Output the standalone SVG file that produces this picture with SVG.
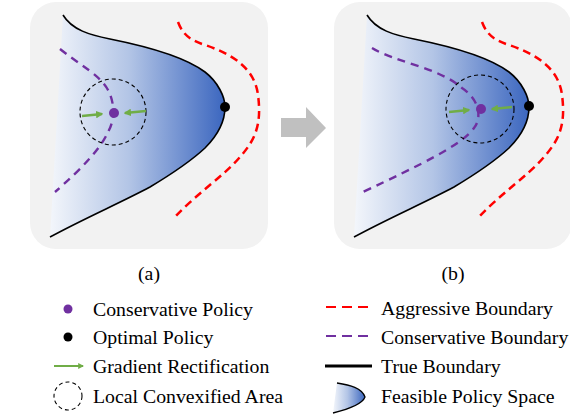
<svg xmlns="http://www.w3.org/2000/svg" width="570" height="414" viewBox="0 0 570 414">
<defs>
<linearGradient id="feas" x1="0" y1="0" x2="1" y2="0">
<stop offset="0" stop-color="#f3f6fb"/>
<stop offset="0.45" stop-color="#b3c5e6"/>
<stop offset="1" stop-color="#3b66bf"/>
</linearGradient>
<marker id="ah" viewBox="0 0 10 10" refX="8" refY="5" markerWidth="3" markerHeight="3" orient="auto" markerUnits="strokeWidth">
<path d="M0,0 L10,5 L0,10 z" fill="#70ad47"/>
</marker>
<g id="panelShape">
<path class="fill" d="M63,15 C72,30 90,35 110,39 C150,47 185,57 205,72 C218,82 225,97 225,107 C225,120 218,135 205,148 C190,162 170,175 150,187 C120,203 85,218 50,237 L63,15 Z"/>
<path class="true" d="M63,15 C72,30 90,35 110,39 C150,47 185,57 205,72 C218,82 225,97 225,107 C225,120 218,135 205,148 C190,162 170,175 150,187 C120,203 85,218 50,237"/>
<path class="agg" d="M178,22 C183,35 190,40 205,45 C235,55 255,70 258,95 C262,125 255,140 240,157 C225,175 195,195 175,217"/>
</g>
</defs>
<style>
.bg{fill:#f2f2f2}
.fill{fill:url(#feas);stroke:none}
.true{fill:none;stroke:#000;stroke-width:1.6}
.agg{fill:none;stroke:#ff0000;stroke-width:2.5;stroke-dasharray:8 5}
.cons{fill:none;stroke:#7030a0;stroke-width:2.4;stroke-dasharray:8 6}
.area{fill:none;stroke:#000;stroke-width:1.1;stroke-dasharray:4 3}
.grad{fill:none;stroke:#70ad47;stroke-width:2.5;marker-end:url(#ah)}
.pp{fill:#7030a0}
.op{fill:#000}
.t{font-family:"Liberation Serif","Times New Roman",serif;font-size:19.8px;fill:#000}
</style>
<g id="panel-a">
<rect class="bg" x="30" y="2" width="238" height="247" rx="26"/>
<use href="#panelShape"/>
<path class="cons" d="M60,49 C80,65 100,75 108,90 C115,103 115,120 108,132 C100,150 80,170 55,192"/>
<circle class="area" cx="113" cy="112" r="33"/>
<circle class="pp" cx="114" cy="113" r="5"/>
<circle class="op" cx="225" cy="107" r="5"/>
</g>
<g id="panel-b">
<rect class="bg" x="334" y="2" width="238" height="247" rx="26"/>
<use href="#panelShape" transform="translate(304,0)"/>
<path class="cons" d="M372,48 C395,62 440,68 462,88 C480,100 482,118 474,128 C462,145 420,165 363,192"/>
<circle class="area" cx="480" cy="109" r="34"/>
<circle class="pp" cx="481" cy="109" r="5"/>
<circle class="op" cx="529" cy="106" r="5"/>
</g>
<g id="connectors">
<path class="grad" d="M82,116 L102,114"/>
<path class="grad" d="M146,111 L125,113"/>
<path class="grad" d="M449,112 L469,110"/>
<path class="grad" d="M512,107 L492,109"/>
</g>
<g id="transition-arrow">
<polygon points="281,118 306,118 306,107 326,128 306,148 306,137 281,137" fill="#c0c0c0"/>
</g>
<g id="captions">
<text class="t" x="149" y="280" text-anchor="middle">(a)</text>
<text class="t" x="453" y="280" text-anchor="middle">(b)</text>
</g>
<g id="legend">
<g id="leg-cons-policy"><circle class="pp" cx="68" cy="309" r="4.5"/><text class="t" x="93" y="316">Conservative Policy</text></g>
<g id="leg-opt-policy"><circle class="op" cx="68" cy="337" r="4.5"/><text class="t" x="93" y="344">Optimal Policy</text></g>
<g id="leg-grad"><path class="grad" d="M54,366 L83,366" style="stroke-width:2"/><text class="t" x="93" y="373">Gradient Rectification</text></g>
<g id="leg-area"><circle class="area" cx="68" cy="396" r="14"/><text class="t" x="93" y="403">Local Convexified Area</text></g>
<g id="leg-agg"><path d="M326,307 L372,307" fill="none" stroke="#ff0000" stroke-width="2" stroke-dasharray="10 6"/><text class="t" x="381" y="315">Aggressive Boundary</text></g>
<g id="leg-consb"><path d="M326,336 L372,336" fill="none" stroke="#7030a0" stroke-width="2" stroke-dasharray="10 6"/><text class="t" x="381" y="344">Conservative Boundary</text></g>
<g id="leg-true"><path d="M325,366 L372,366" fill="none" stroke="#000" stroke-width="3"/><text class="t" x="381" y="373">True Boundary</text></g>
<g id="leg-feas"><path d="M337,383 C350,385 362,388 365,397 C362,405 345,410 333,413 L337,383 Z" fill="url(#feas)" stroke="none"/><path d="M337,383 C350,385 362,388 365,397 C362,405 345,410 333,413" fill="none" stroke="#000" stroke-width="1.3"/><text class="t" x="381" y="403">Feasible Policy Space</text></g>
</g>
</svg>
